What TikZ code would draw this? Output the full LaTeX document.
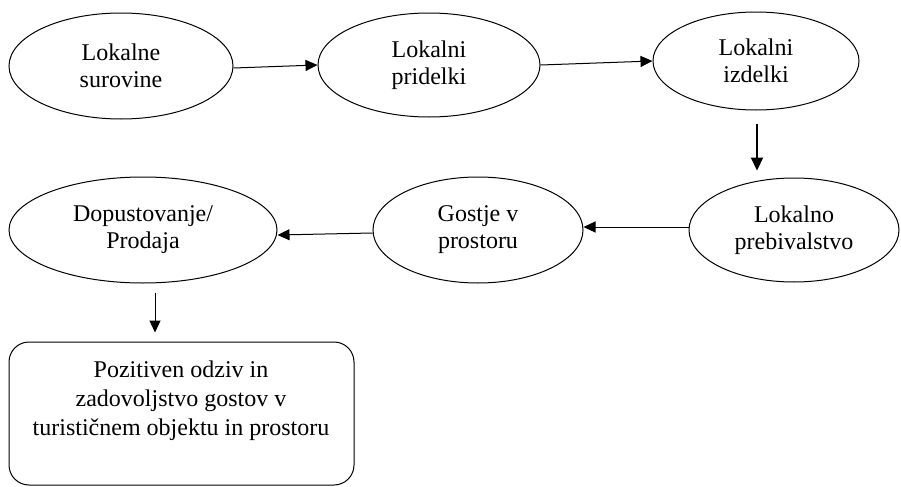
\documentclass[tikz,border=0pt]{standalone}
\usepackage{fontspec}
\setmainfont{Liberation Serif}
\usetikzlibrary{shapes.geometric,arrows.meta,calc}
\begin{document}
\begin{tikzpicture}[x=0.5pt,y=-0.5pt,
  txt/.style={align=center,inner sep=0pt,font=\fontsize{12}{13.5}\selectfont},
  ell/.style={ellipse,draw,line width=0.5pt,inner sep=0pt,txt},
  arr/.style={-{Triangle[length=6pt,width=5.5pt]},line width=0.5pt},
  thickarr/.style={-{Triangle[length=6.5pt,width=6pt]},line width=1.1pt}]
\useasboundingbox (0,0) rectangle (901,487);
\node[ell,minimum width=112pt,minimum height=53pt] (a) at (121,66) {Lokalne\\surovine};
\node[ell,minimum width=111pt,minimum height=52pt] (b) at (429,65) {Lokalni\\pridelki};
\node[ell,minimum width=103pt,minimum height=49pt] (c) at (756,61) {Lokalni\\izdelki};
\node[ell,minimum width=105pt,minimum height=52pt] (d) at (794,230) {Lokalno\\prebivalstvo};
\node[ell,minimum width=105pt,minimum height=53pt] (e) at (478,230) {Gostje v\\prostoru};
\node[ell,minimum width=134pt,minimum height=53pt] (f) at (143,230) {Dopustovanje/\\Prodaja};
\node[draw,line width=0.5pt,rounded corners=10pt,minimum width=172.5pt,minimum height=71.5pt,inner sep=0pt] (g) at (181.5,413.5) {};
\node[txt,font=\fontsize{12}{14.5}\selectfont] (gt) at (181,401) {Pozitiven odziv in\\zadovoljstvo gostov v\\turističnem objektu in prostoru};
\draw[arr] ($(a.east)+(0,2)$) -- (b.west);
\draw[arr] (b.east) -- (c.west);
\draw[thickarr] ($(c.south)+(1,13)$) -- ($(c.south |- d.north)+(1,-7)$);
\draw[arr] ($(d.west)+(0,-3)$) -- ($(e.east)+(0,-3)$);
\draw[arr] ($(e.west)+(0,3)$) -- ($(f.east)+(0,5)$);
\draw[arr] ($(f.south)+(12,9)$) -- ($(f.south |- g.north)+(12,-9)$);
\end{tikzpicture}
\end{document}
